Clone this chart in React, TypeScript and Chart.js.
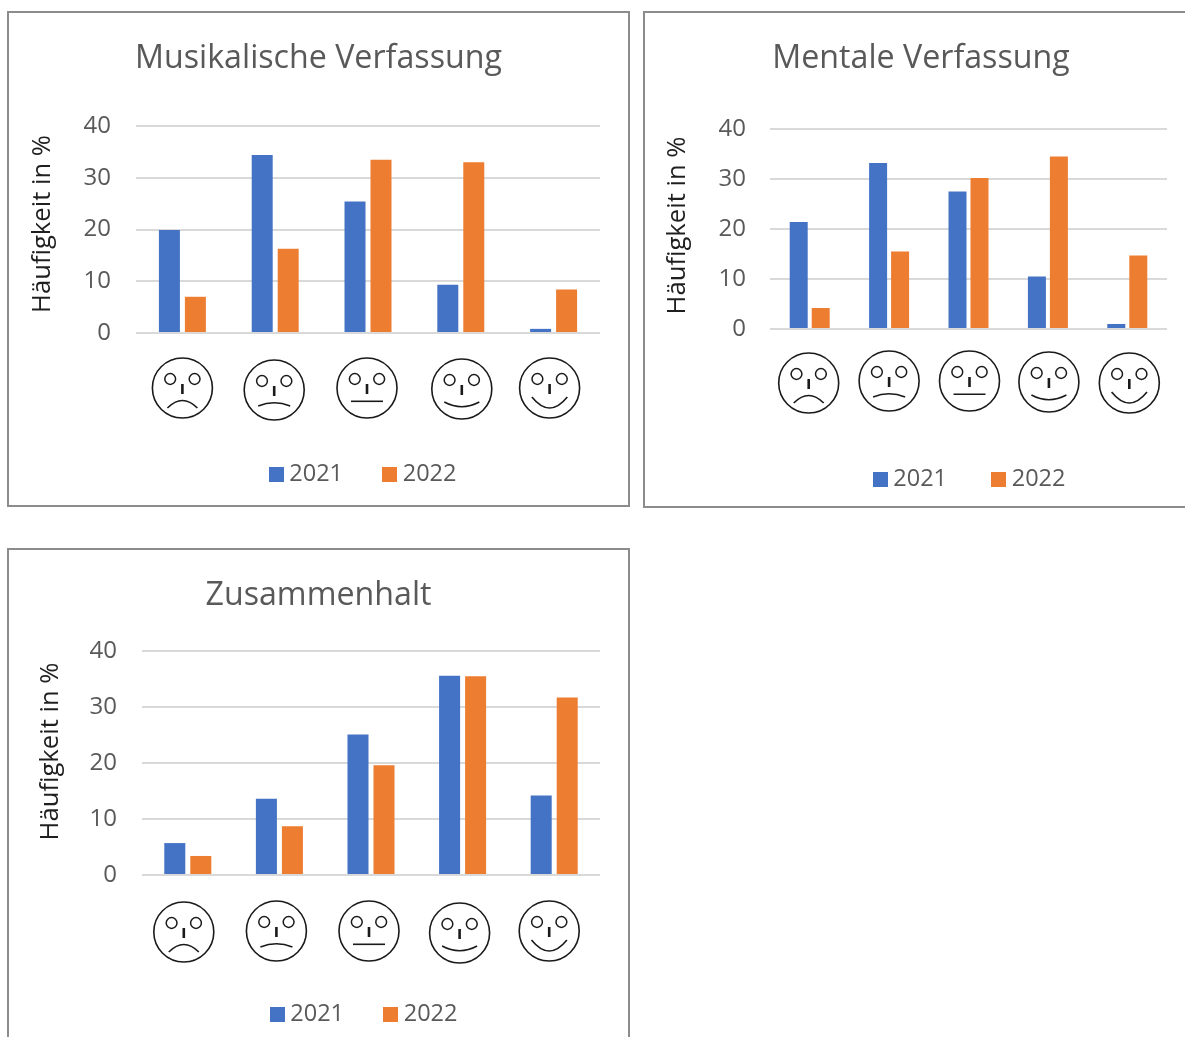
import React, { useEffect, useRef } from "react";
import { Chart, registerables } from "chart.js";

Chart.register(...registerables);

const moods = ["sehr schlecht", "schlecht", "neutral", "gut", "sehr gut"];
const seriesNames = ["2021", "2022"];
const seriesColors = ["#4472C4", "#ED7D31"];

const musikTitle = "Musikalische Verfassung";
const musik2021 = [19.9, 34.4, 25.4, 9.3, 0.8];
const musik2022 = [7.0, 16.3, 33.5, 33.0, 8.4];

const mentalTitle = "Mentale Verfassung";
const mental2021 = [21.4, 33.2, 27.5, 10.5, 1.0];
const mental2022 = [4.2, 15.5, 30.2, 34.5, 14.7];

const zusammenTitle = "Zusammenhalt";
const zusammen2021 = [5.7, 13.6, 25.1, 35.6, 14.2];
const zusammen2022 = [3.4, 8.7, 19.6, 35.5, 31.7];

const axisLabel = "Häufigkeit in %";
const FONT = '"Open Sans", sans-serif';

// Mouth shape per mood: half width, end y, apex y (relative to face centre)
const mouths = [
  { hw: 15, end: 20, apex: 12.5 },
  { hw: 16, end: 16, apex: 12.7 },
  { hw: 16, end: 13.3, apex: 13.3 },
  { hw: 17.5, end: 13, apex: 17.7 },
  { hw: 17.7, end: 9, apex: 20 },
];

type Panel = {
  title: string;
  a: number[];
  b: number[];
  x: number; y: number; w: number; h: number;
  plotL: number; plotR: number; plotT: number; plotB: number;
  titleY: number;
  axisX: number; axisShift: number;
  legendCx: number; legendY: number; legendGap: number;
  tickPad: number;
  catPct: number; barPct: number;
  faceDx: number[]; faceY: number[];
};

const panels: Panel[] = [
  {
    title: musikTitle, a: musik2021, b: musik2022,
    x: 7, y: 11, w: 623, h: 496,
    plotL: 136, plotR: 600, plotT: 126, plotB: 333,
    titleY: 58.5, axisX: 42.5, axisShift: 5.5,
    legendCx: 365.5, legendY: 474, legendGap: 45, tickPad: 25,
    catPct: 0.56, barPct: 0.808,
    faceDx: [0, -1, -1, 1, -4], faceY: [388, 390, 388, 389, 388],
  },
  {
    title: mentalTitle, a: mental2021, b: mental2022,
    x: 643, y: 11, w: 556, h: 497,
    plotL: 770, plotR: 1167, plotT: 129, plotB: 329,
    titleY: 58.5, axisX: 677.5, axisShift: 3.5,
    legendCx: 972, legendY: 479, legendGap: 50, tickPad: 24,
    catPct: 0.554, barPct: 0.818,
    faceDx: [-1, 0, 1, 1, 2], faceY: [383, 381, 381, 382, 383],
  },
  {
    title: zusammenTitle, a: zusammen2021, b: zusammen2022,
    x: 7, y: 548, w: 623, h: 520,
    plotL: 142, plotR: 600, plotT: 651, plotB: 875,
    titleY: 595.5, axisX: 50.5, axisShift: 11.5,
    legendCx: 366.5, legendY: 1014, legendGap: 45, tickPad: 25,
    catPct: 0.568, barPct: 0.808,
    faceDx: [-4, -3, -2, -3, -5], faceY: [932, 931, 931, 933, 931],
  },
];

function swatch(color: string) {
  const c = document.createElement("canvas");
  c.width = 15;
  c.height = 15;
  const g = c.getContext("2d")!;
  g.fillStyle = color;
  g.fillRect(0, 0, 15, 15);
  return c;
}

function drawFace(ctx: CanvasRenderingContext2D, cx: number, cy: number, i: number) {
  const m = mouths[i];
  ctx.save();
  ctx.strokeStyle = "#1a1a1a";
  ctx.lineWidth = 1.6;
  ctx.beginPath();
  ctx.arc(cx, cy, 30, 0, Math.PI * 2);
  ctx.stroke();
  ctx.lineWidth = 1.5;
  [-12.2, 12.2].forEach((dx) => {
    ctx.beginPath();
    ctx.arc(cx + dx, cy - 9, 5.4, 0, Math.PI * 2);
    ctx.stroke();
  });
  ctx.lineWidth = 2.6;
  ctx.beginPath();
  ctx.moveTo(cx, cy - 4);
  ctx.lineTo(cx, cy + 6);
  ctx.stroke();
  ctx.lineWidth = 1.6;
  ctx.beginPath();
  ctx.moveTo(cx - m.hw, cy + m.end);
  ctx.quadraticCurveTo(cx, cy + 2 * m.apex - m.end, cx + m.hw, cy + m.end);
  ctx.stroke();
  ctx.restore();
}

function ChartPanel({ panel }: { panel: Panel }) {
  const ref = useRef<HTMLCanvasElement>(null);
  useEffect(() => {
    const p = panel;
    const swatches = seriesColors.map(swatch);
    const titleSize = 32.2;
    const axisSize = 25.6;
    const legendSize = 23.5;
    const titleLine = titleSize * 1.2;
    const axisLine = axisSize * 1.2;
    const titleTop = p.titleY - p.y - titleLine / 2;
    const titleBottom = p.plotT - p.y - titleTop - titleLine;
    const extras = {
      id: "panelExtras",
      afterLayout(chart: any) {
        const lg = chart.legend;
        const half = (lg.right - lg.left) / 2;
        const cx = p.legendCx - p.x;
        lg.left = cx - half;
        lg.right = cx + half;
        lg.top = p.legendY - p.y - p.legendGap - legendSize / 2;
        chart.scales.y.bottom -= 2 * p.axisShift;
        chart.titleBlock.left = 0;
        chart.titleBlock.right = chart.width;
      },
      afterDraw(chart: any) {
        const xs = chart.scales.x;
        moods.forEach((_, i) => {
          drawFace(chart.ctx, xs.getPixelForTick(i) + p.faceDx[i], p.faceY[i] - p.y, i);
        });
      },
    };
    const chart = new Chart(ref.current!, {
      type: "bar",
      data: {
        labels: moods,
        datasets: [
          { label: seriesNames[0], data: p.a, backgroundColor: seriesColors[0], categoryPercentage: p.catPct, barPercentage: p.barPct, clip: false },
          { label: seriesNames[1], data: p.b, backgroundColor: seriesColors[1], categoryPercentage: p.catPct, barPercentage: p.barPct, clip: false },
        ],
      },
      options: {
        responsive: false,
        animation: false,
        layout: { padding: { left: 0, top: 0, bottom: 0, right: p.x + p.w - p.plotR } },
        plugins: {
          tooltip: { enabled: false },
          title: {
            display: true,
            text: p.title,
            color: "#595959",
            font: { family: FONT, size: titleSize, weight: "normal", lineHeight: 1.2 },
            padding: { top: titleTop, bottom: titleBottom },
          },
          legend: {
            display: true,
            position: "bottom",
            labels: {
              usePointStyle: true,
              boxWidth: 3,
              boxHeight: 15,
              padding: p.legendGap,
              color: "#595959",
              font: { family: FONT, size: legendSize },
              generateLabels: (c: any) =>
                (Chart.defaults.plugins.legend.labels as any)
                  .generateLabels(c)
                  .map((it: any, i: number) => ({ ...it, pointStyle: swatches[i] })),
            },
          },
        },
        scales: {
          x: {
            grid: { display: false },
            border: { display: false },
            ticks: { display: false },
            afterFit: (s: any) => {
              s.height = p.y + p.h - p.plotB - s.chart.legend.height;
            },
          },
          y: {
            min: 0,
            max: 40,
            grid: { color: "#D9D9D9", lineWidth: 2, drawTicks: false },
            border: { display: false },
            ticks: {
              stepSize: 10,
              padding: p.tickPad,
              color: "#595959",
              font: { family: FONT, size: 24 },
            },
            title: {
              display: true,
              text: axisLabel,
              color: "#1f1f1f",
              font: { family: FONT, size: axisSize, lineHeight: 1.2 },
              padding: { top: p.axisX - p.x - axisLine / 2, bottom: 0 },
            },
            afterFit: (s: any) => {
              s.width = p.plotL - p.x;
            },
          },
        },
      } as any,
      plugins: [extras],
    });
    return () => chart.destroy();
  }, [panel]);

  return (
    <>
      <div
        style={{
          position: "absolute",
          left: panel.x,
          top: panel.y,
          width: panel.w,
          height: panel.h,
          boxSizing: "border-box",
          border: "2px solid #8C8C8C",
        }}
      />
      <canvas
        ref={ref}
        width={panel.w}
        height={panel.h}
        style={{ position: "absolute", left: panel.x, top: panel.y, width: panel.w, height: panel.h }}
      />
    </>
  );
}

export default function App() {
  return (
    <div
      style={{
        position: "absolute",
        left: 0,
        top: 0,
        width: 1185,
        height: 1037,
        overflow: "hidden",
        background: "#fff",
      }}
    >
      {panels.map((p) => (
        <ChartPanel key={p.title} panel={p} />
      ))}
    </div>
  );
}
